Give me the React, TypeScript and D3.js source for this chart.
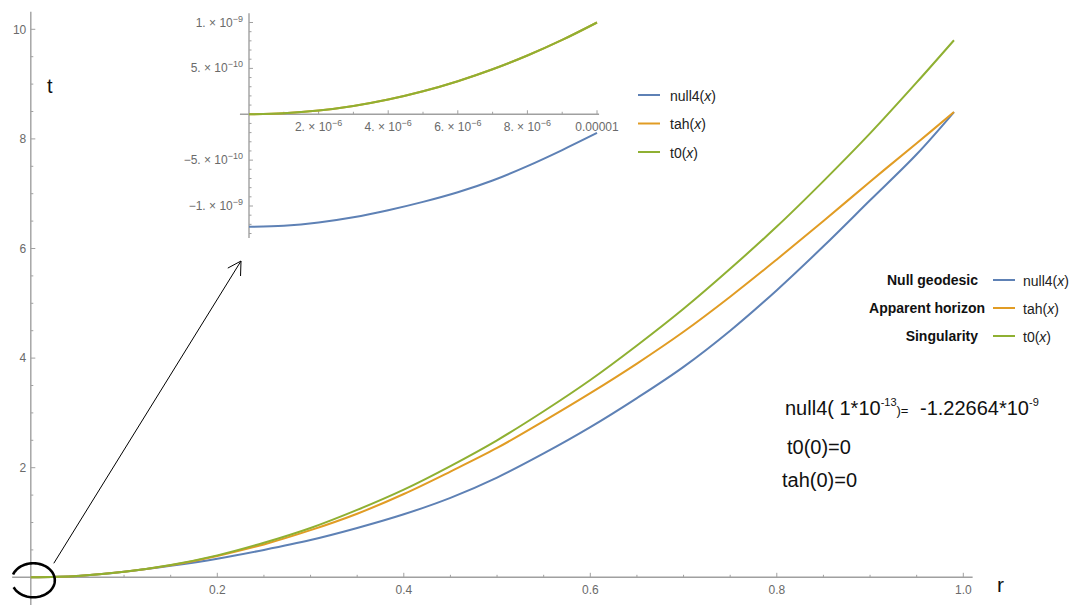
import React from 'react';
import * as d3 from 'd3';

// main plot, values
const rVals = [0, 0.05, 0.1, 0.15, 0.2, 0.25, 0.3, 0.35, 0.4, 0.45, 0.5, 0.55, 0.6, 0.65, 0.7, 0.75, 0.8, 0.85, 0.9, 0.95, 0.99];
const null4Vals = [0, 0.025, 0.1, 0.21, 0.34, 0.5, 0.68, 0.9, 1.15, 1.45, 1.82, 2.26, 2.74, 3.27, 3.84, 4.5, 5.24, 6.04, 6.88, 7.72, 8.49];
const tahVals = [0, 0.025, 0.1, 0.22, 0.39, 0.6, 0.86, 1.16, 1.52, 1.93, 2.36, 2.85, 3.36, 3.9, 4.48, 5.12, 5.8, 6.5, 7.22, 7.92, 8.49];
const t0Vals = [0, 0.025, 0.1, 0.225, 0.4, 0.63, 0.9, 1.23, 1.6, 2.03, 2.5, 3.03, 3.6, 4.23, 4.9, 5.63, 6.4, 7.23, 8.1, 9.03, 9.8];

// inset (zoom near the origin)
const insetR = [0, 1e-6, 2e-6, 3e-6, 4e-6, 5e-6, 6e-6, 7e-6, 8e-6, 9e-6, 1e-5];
const insetNull4 = [-1.2266e-9, -1.215e-9, -1.18e-9, -1.123e-9, -1.046e-9, -0.955e-9, -0.85e-9, -0.722e-9, -0.565e-9, -0.39e-9, -0.204e-9];
const insetTah = [0, 0.1e-10, 0.4e-10, 0.9e-10, 1.6e-10, 2.5e-10, 3.6e-10, 4.9e-10, 6.4e-10, 8.1e-10, 10e-10];
const insetT0 = [0, 0.1e-10, 0.4e-10, 0.9e-10, 1.6e-10, 2.5e-10, 3.6e-10, 4.9e-10, 6.4e-10, 8.1e-10, 10e-10];

const xTicks = [0.2, 0.4, 0.6, 0.8, 1.0];
const xTickLabels = ['0.2', '0.4', '0.6', '0.8', '1.0'];
const yTicks = [2, 4, 6, 8, 10];
const yTickLabels = ['2', '4', '6', '8', '10'];

const insetXTicks = [2e-6, 4e-6, 6e-6, 8e-6, 1e-5];
const insetXMant = ['2.', '4.', '6.', '8.', '0.00001'];
const insetXExp = ['\u22126', '\u22126', '\u22126', '\u22126', ''];
const insetYTicks = [1e-9, 5e-10, -5e-10, -1e-9];
const insetYMant = ['1.', '5.', '\u22125.', '\u22121.'];
const insetYExp = ['\u22129', '\u221210', '\u221210', '\u22129'];

const seriesNames = ['null4', 'tah', 't0'];
const seriesLabels = ['Null geodesic', 'Apparent horizon', 'Singularity'];
const colors = ['#5e81b5', '#e19c24', '#8fb032'];

const FONT = '"Liberation Sans", Arial, sans-serif';
const AXIS = '#a0a0a0';
const TICKTXT = '#6a6a6a';

const W = 1077;
const H = 605;

const App = () => {
  const x = d3.scaleLinear().domain([0, 1]).range([30.8, 963.3]);
  const y = d3.scaleLinear().domain([0, 10]).range([577.3, 29.3]);

  const ix = d3.scaleLinear().domain([0, 1e-5]).range([249, 597]);
  const iy = d3.scaleLinear().domain([-1e-9, 1e-9]).range([206, 22.5]);

  const mainSeries = [null4Vals, tahVals, t0Vals];
  const insetSeries = [insetNull4, insetTah, insetT0];

  const mainLine = (vals: number[]) =>
    d3.line<number>()
      .x((_, i) => x(rVals[i]))
      .y(d => y(d))
      .curve(d3.curveCatmullRom)(vals) || '';

  const insetLine = (vals: number[]) =>
    d3.line<number>()
      .x((_, i) => ix(insetR[i]))
      .y(d => iy(d))
      .curve(d3.curveCatmullRom)(vals) || '';

  const xMinor = d3.range(0.05, 1.0, 0.05).filter(v => Math.abs(v * 5 - Math.round(v * 5)) > 1e-6);
  const yMinor = d3.range(0.5, 10.3, 0.5).filter(v => Math.abs(v / 2 - Math.round(v / 2)) > 1e-6);
  const ixMinor = d3.range(1, 10, 2).map(v => v * 1e-6);
  const iyMinor = d3.range(-13, 11, 1).filter(v => v % 5 !== 0).map(v => v * 1e-10);

  // ellipse around the origin, open a little on its left side
  const ecx = x(0) + 2.5, ecy = y(0) + 3, erx = 21.5, ery = 17;
  const ellipsePts = d3.range(200, 520, 4).map(a => {
    const t = (a * Math.PI) / 180;
    return [ecx + erx * Math.cos(t), ecy + ery * Math.sin(t)] as [number, number];
  });
  const ellipsePath = d3.line()(ellipsePts) || '';

  // arrow from the origin up to the inset
  const a0: [number, number] = [x(0) + 23, y(0) - 14];
  const a1: [number, number] = [241, 261];
  const ang = Math.atan2(a0[1] - a1[1], a0[0] - a1[0]);
  const wing = (d: number): [number, number] => [a1[0] + 15 * Math.cos(ang + d), a1[1] + 15 * Math.sin(ang + d)];
  const w1 = wing(Math.PI / 6);
  const w2 = wing(-Math.PI / 6);

  return (
    <div style={{ position: 'absolute', left: 0, top: 0 }}>
      <svg width={W} height={H} style={{ display: 'block', background: '#fff' }} fontFamily={FONT}>
        {/* main axes */}
        <line x1={x(-0.02)} x2={x(1.01)} y1={y(0)} y2={y(0)} stroke={AXIS} strokeWidth={1.4} />
        <line x1={x(0)} x2={x(0)} y1={y(-0.6)} y2={y(10.32)} stroke={AXIS} strokeWidth={1.4} />
        {xTicks.map(v => (
          <line key={'xt' + v} x1={x(v)} x2={x(v)} y1={y(0)} y2={y(0) - 4.5} stroke={AXIS} strokeWidth={1} />
        ))}
        {xMinor.map(v => (
          <line key={'xm' + v} x1={x(v)} x2={x(v)} y1={y(0)} y2={y(0) - 2.5} stroke={AXIS} strokeWidth={1} />
        ))}
        {yTicks.map(v => (
          <line key={'yt' + v} x1={x(0)} x2={x(0) + 4.5} y1={y(v)} y2={y(v)} stroke={AXIS} strokeWidth={1} />
        ))}
        {yMinor.map(v => (
          <line key={'ym' + v} x1={x(0)} x2={x(0) + 2.5} y1={y(v)} y2={y(v)} stroke={AXIS} strokeWidth={1} />
        ))}
        {xTicks.map((v, i) => (
          <text key={'xl' + v} x={x(v)} y={y(0) + 16.5} textAnchor="middle" fontSize={12} fill={TICKTXT}>{xTickLabels[i]}</text>
        ))}
        {yTicks.map((v, i) => (
          <text key={'yl' + v} x={x(0) - 4.5} y={y(v) + 4.2} textAnchor="end" fontSize={12} fill={TICKTXT}>{yTickLabels[i]}</text>
        ))}
        <text x={47} y={93} fontSize={20} fill="#111">t</text>
        <text x={997} y={592} fontSize={21} fill="#111">r</text>

        {/* main curves */}
        {mainSeries.map((vals, i) => (
          <path key={'s' + i} d={mainLine(vals)} fill="none" stroke={colors[i]} strokeWidth={2} />
        ))}

        {/* inset */}
        <line x1={ix(-0.26e-6)} x2={ix(1.006e-5)} y1={iy(0)} y2={iy(0)} stroke={AXIS} strokeWidth={1.4} />
        <line x1={ix(0)} x2={ix(0)} y1={iy(1.1e-9)} y2={iy(-1.35e-9)} stroke={AXIS} strokeWidth={1.4} />
        {insetXTicks.map(v => (
          <line key={'ixt' + v} x1={ix(v)} x2={ix(v)} y1={iy(0)} y2={iy(0) - 4} stroke={AXIS} strokeWidth={1} />
        ))}
        {ixMinor.map(v => (
          <line key={'ixm' + v} x1={ix(v)} x2={ix(v)} y1={iy(0)} y2={iy(0) - 2.5} stroke={AXIS} strokeWidth={1} />
        ))}
        {insetYTicks.map(v => (
          <line key={'iyt' + v} x1={ix(0)} x2={ix(0) + 4} y1={iy(v)} y2={iy(v)} stroke={AXIS} strokeWidth={1} />
        ))}
        {iyMinor.map(v => (
          <line key={'iym' + v} x1={ix(0)} x2={ix(0) + 2.5} y1={iy(v)} y2={iy(v)} stroke={AXIS} strokeWidth={1} />
        ))}
        {insetXTicks.map((v, i) => (
          <text key={'ixl' + v} x={ix(v)} y={iy(0) + 17} textAnchor="middle" fontSize={12} fill={TICKTXT}>
            {insetXExp[i] ? (
              <>
                <tspan>{insetXMant[i]} {'\u00d7'} 10</tspan>
                <tspan dy={-5} fontSize={9}>{insetXExp[i]}</tspan>
              </>
            ) : insetXMant[i]}
          </text>
        ))}
        {insetYTicks.map((v, i) => (
          <text key={'iyl' + v} x={ix(0) - 6} y={iy(v) + 4} textAnchor="end" fontSize={12} fill={TICKTXT}>
            <tspan>{insetYMant[i]} {'\u00d7'} 10</tspan>
            <tspan dy={-5} fontSize={9}>{insetYExp[i]}</tspan>
          </text>
        ))}
        {insetSeries.map((vals, i) => (
          <path key={'is' + i} d={insetLine(vals)} fill="none" stroke={colors[i]} strokeWidth={2} />
        ))}

        {/* inset legend */}
        {seriesNames.map((n, i) => (
          <g key={'lg1' + n} transform={`translate(638,${95 + i * 28.5})`}>
            <line x1={0} x2={22} y1={0} y2={0} stroke={colors[i]} strokeWidth={2} />
            <text x={32} y={5.5} fontSize={14} fill="#222">
              {n}(<tspan fontStyle="italic">x</tspan>)
            </text>
          </g>
        ))}

        {/* main legend */}
        {seriesNames.map((n, i) => (
          <g key={'lg2' + n} transform={`translate(993,${280 + i * 28})`}>
            <text x={i === 1 ? -8 : -15} y={5} fontSize={14} fontWeight="bold" textAnchor="end" fill="#111">{seriesLabels[i]}</text>
            <line x1={0} x2={22} y1={0} y2={0} stroke={colors[i]} strokeWidth={2} />
            <text x={30} y={5.5} fontSize={14} fill="#222">
              {n}(<tspan fontStyle="italic">x</tspan>)
            </text>
          </g>
        ))}

        {/* annotations */}
        <text x={785} y={415} fontSize={20} fill="#111">
          <tspan>null4( 1*10</tspan>
          <tspan dy={-9} fontSize={11}>-13</tspan>
          <tspan dy={9} fontSize={13}>)=</tspan>
          <tspan x={920}>-1.22664*10</tspan>
          <tspan dy={-9} fontSize={11}>-9</tspan>
        </text>
        <text x={787} y={454} fontSize={20} fill="#111">t0(0)=0</text>
        <text x={782} y={487} fontSize={20} fill="#111">tah(0)=0</text>

        <path d={ellipsePath} fill="none" stroke="#000" strokeWidth={2.6} />
        <line x1={a0[0]} y1={a0[1]} x2={a1[0]} y2={a1[1]} stroke="#000" strokeWidth={1} />
        <polyline points={`${w1[0]},${w1[1]} ${a1[0]},${a1[1]} ${w2[0]},${w2[1]}`} fill="none" stroke="#000" strokeWidth={1} />
      </svg>
    </div>
  );
};

export default App;
